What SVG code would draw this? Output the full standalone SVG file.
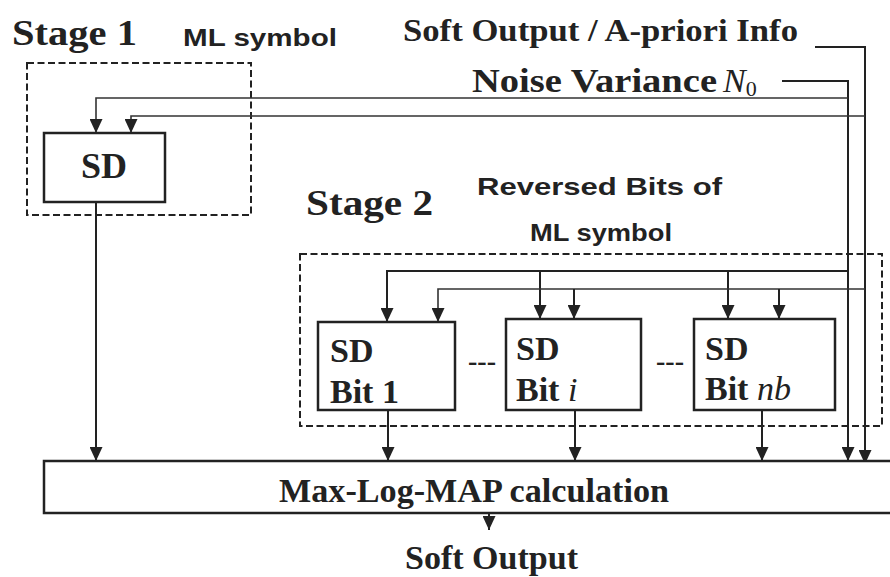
<svg xmlns="http://www.w3.org/2000/svg" width="890" height="577" viewBox="0 0 890 577">
  <defs>
    <!-- filled arrowhead, tip at the end of the path -->
    <marker id="arr" markerWidth="14" markerHeight="13" viewBox="0 0 14 13" refX="14" refY="6.5" orient="auto" markerUnits="userSpaceOnUse">
      <path d="M0,0 L14,6.5 L0,13 Z" fill="#222"/>
    </marker>
    <style>
      .serif { font-family: "Liberation Serif", "Times New Roman", serif; font-weight: bold; fill: #222; }
      .sans { font-family: "Liberation Sans", Arial, sans-serif; font-weight: bold; fill: #222; }
      .math { font-family: "Liberation Serif", "Times New Roman", serif; font-style: italic; font-weight: normal; }
      .box { fill: #fff; stroke: #222; stroke-width: 2.5; }
      .dash { fill: none; stroke: #222; stroke-width: 2; stroke-dasharray: 7 3.5; }
      .wire { fill: none; stroke: #222; stroke-width: 2; }
      .wire2 { fill: none; stroke: #333; stroke-width: 1.6; }
    </style>
  </defs>
  <rect width="890" height="577" fill="#fff"/>

  <!-- Titles and input labels -->
  <text class="serif" x="12" y="45" font-size="35" textLength="125" lengthAdjust="spacingAndGlyphs">Stage 1</text>
  <text class="sans" x="183" y="46" font-size="24" textLength="154" lengthAdjust="spacingAndGlyphs">ML symbol</text>
  <text class="serif" x="403" y="41" font-size="31" textLength="395" lengthAdjust="spacingAndGlyphs">Soft Output / A-priori Info</text>
  <text class="serif" x="472" y="92" font-size="33" textLength="245" lengthAdjust="spacingAndGlyphs">Noise Variance</text>
  <text x="723" y="92" fill="#222"><tspan class="math" font-size="34">N</tspan><tspan font-family="Liberation Serif, serif" font-size="22" dy="4">0</tspan></text>
  <text class="serif" x="306" y="215" font-size="35" textLength="127" lengthAdjust="spacingAndGlyphs">Stage 2</text>
  <text class="sans" x="477" y="195" font-size="24" textLength="245" lengthAdjust="spacingAndGlyphs">Reversed Bits of</text>
  <text class="sans" x="530" y="241" font-size="24" textLength="142" lengthAdjust="spacingAndGlyphs">ML symbol</text>

  <!-- Stage frames -->
  <rect class="dash" x="27" y="63" width="224" height="152"/>
  <rect class="dash" x="300" y="254" width="582" height="172"/>

  <!-- Connectors -->
  <g id="connectors">
    <!-- soft output / a-priori feed -->
    <polyline class="wire" points="815,47 865,47 865,464" marker-end="url(#arr)"/>
    <!-- noise variance feed -->
    <polyline class="wire" points="782,81 848,81 848,461" marker-end="url(#arr)"/>
    <!-- stage 1 inputs -->
    <polyline class="wire2" points="848,98 96,98 96,133" marker-end="url(#arr)"/>
    <polyline class="wire2" points="865,116 131,116 131,133" marker-end="url(#arr)"/>
    <!-- stage 2 inputs -->
    <polyline class="wire" points="848,271 387,271 387,322" marker-end="url(#arr)"/>
    <line class="wire" x1="540" y1="271" x2="540" y2="319" marker-end="url(#arr)"/>
    <line class="wire" x1="728" y1="271" x2="728" y2="319" marker-end="url(#arr)"/>
    <polyline class="wire2" points="865,289 438,289 438,322" marker-end="url(#arr)"/>
    <line class="wire" x1="574" y1="289" x2="574" y2="319" marker-end="url(#arr)"/>
    <line class="wire" x1="779" y1="289" x2="779" y2="319" marker-end="url(#arr)"/>
    <!-- outputs into the Max-Log-MAP stage -->
    <line class="wire" x1="96" y1="202" x2="96" y2="461" marker-end="url(#arr)"/>
    <line class="wire" x1="388" y1="410" x2="388" y2="461" marker-end="url(#arr)"/>
    <line class="wire" x1="575" y1="410" x2="575" y2="461" marker-end="url(#arr)"/>
    <line class="wire" x1="762" y1="410" x2="762" y2="461" marker-end="url(#arr)"/>
    <!-- final output -->
    <line class="wire" x1="489" y1="513" x2="489" y2="530" marker-end="url(#arr)"/>
  </g>

  <!-- Nodes -->
  <g id="sd-stage1">
    <rect class="box" x="44" y="133" width="121" height="69"/>
    <text class="serif" x="104" y="178" font-size="36" text-anchor="middle">SD</text>
  </g>
  <g id="sd-bit-1">
    <rect class="box" x="318" y="322" width="137" height="88"/>
    <text class="serif" x="330" y="362" font-size="34">SD</text>
    <text class="serif" x="330" y="403" font-size="34">Bit 1</text>
  </g>
  <text class="serif" x="468" y="370" font-size="28" textLength="28" lengthAdjust="spacingAndGlyphs">---</text>
  <g id="sd-bit-i">
    <rect class="box" x="506" y="319" width="135" height="91"/>
    <text class="serif" x="516" y="360" font-size="34">SD</text>
    <text class="serif" x="516" y="401" font-size="34">Bit <tspan class="math">i</tspan></text>
  </g>
  <text class="serif" x="656" y="370" font-size="28" textLength="28" lengthAdjust="spacingAndGlyphs">---</text>
  <g id="sd-bit-nb">
    <rect class="box" x="694" y="319" width="141" height="91"/>
    <text class="serif" x="705" y="360" font-size="34">SD</text>
    <text class="serif" x="705" y="400" font-size="34">Bit <tspan class="math">nb</tspan></text>
  </g>
  <g id="max-log-map">
    <rect class="box" x="44" y="461" width="860" height="52" stroke-width="3"/>
    <text class="serif" x="279" y="502" font-size="34" textLength="390" lengthAdjust="spacingAndGlyphs">Max-Log-MAP calculation</text>
  </g>
  <text class="serif" x="405" y="569" font-size="34" textLength="173" lengthAdjust="spacingAndGlyphs">Soft Output</text>
</svg>
